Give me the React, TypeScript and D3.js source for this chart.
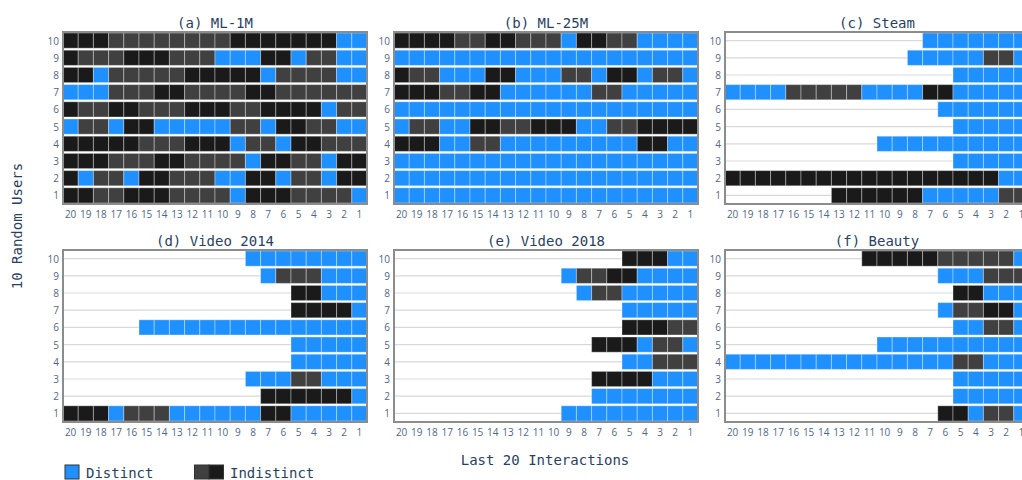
import React from 'react';
import * as d3 from 'd3';

// Tick labels
const users = ['1', '2', '3', '4', '5', '6', '7', '8', '9', '10'];
const positions = ['20', '19', '18', '17', '16', '15', '14', '13', '12', '11', '10', '9', '8', '7', '6', '5', '4', '3', '2', '1'];

// Each string = one user (listed from user 10 down to user 1),
// each character = one interaction from position 20 (left) to 1 (right).
// B = Distinct, G = Indistinct (grey), K = Indistinct (black), . = none
const ml1m = [
  'KKKGGGGGGGGKKKKKKKBB',
  'KGGGKKKGGGBBBKKBGGBB',
  'KKBGGGGGKKKKKBGGGGBB',
  'BBBGGGKKGGGGKKGGGGGG',
  'KGGKKGGGKKKGGKKKKBGG',
  'BGGBKKBBBBBGGBKKGGBB',
  'KKKKKGGGKKKBGGBKKGGG',
  'KKKGGGKKGGGGBKKGGBKK',
  'KBGGBKKGGGBBKKBGGBKK',
  'KKGGKKKGGGGBKKKGGGGB',
];
const ml25m = [
  'KKKKGGKKGGGBKKGGBBBB',
  'BBBBBBBBBBBBBBBBBBBB',
  'KGGBBBKKBBBGGBKKBGGB',
  'KKKGGKKBBBBBBGGBBBBB',
  'BBBBBBBBBBBBBBBBBBBB',
  'BGGBBKKGGKKKBBGGKKKK',
  'KKKBBGGBBBBBBBBBKKBB',
  'BBBBBBBBBBBBBBBBBBBB',
  'BBBBBBBBBBBBBBBBBBBB',
  'BBBBBBBBBBBBBBBBBBBB',
];
const steam = [
  '.............BBBBBBB',
  '............BBBBBGGB',
  '...............BBBBB',
  'BBBBGGGGGBBBBKKBBBBB',
  '..............BBBBBB',
  '...............BBBBB',
  '..........BBBBBBBBBB',
  '...............BBBBB',
  'KKKKKKKKKKKKKKKKKKBB',
  '.......KKKKKKBBBBBGG',
];
const video2014 = [
  '............BBBBBBBB',
  '.............BGGGBBB',
  '...............KKBBB',
  '...............KKKKB',
  '.....BBBBBBBBBBBBBBB',
  '...............BBBBB',
  '...............BBBBB',
  '............BBBGGBBB',
  '.............KKKKKKB',
  'KKKBGGGBBBBBBKKBBBBB',
];
const video2018 = [
  '...............KKKBB',
  '...........BGGKKBBBB',
  '............BGGBBBBB',
  '...............BBBBB',
  '...............KKKGG',
  '.............KKKBGGB',
  '...............BBGGG',
  '.............KKKKBBB',
  '.............BBBBBBB',
  '...........BBBBBBBBB',
];
const beauty = [
  '.........KKKKKGGGGGB',
  '..............BBBGGG',
  '...............KKBBB',
  '..............BGGKKB',
  '...............BBGGB',
  '..........BBBBBBBBBB',
  'BBBBBBBBBBBBBBBGGBBB',
  '...............BBBBB',
  '...............BBBBB',
  '..............KKBGGB',
];

const titles = ['(a) ML-1M', '(b) ML-25M', '(c) Steam', '(d) Video 2014', '(e) Video 2018', '(f) Beauty'];
const datasets = [ml1m, ml25m, steam, video2014, video2018, beauty];

const COLORS: Record<string, string> = { B: '#1E90FF', G: '#404040', K: '#1a1a1a' };
const TEXT = '#2a3f5f';
const TICK = '#506784';
const MONO = '"DejaVu Sans Mono", monospace';
const SANS = '"Open Sans", "Noto Sans", sans-serif';

const colX = [63, 394, 725];
const rowY = [32, 250];
const PW = 304;
const PH = 172;

function Panel({ title, rows, tx, ty }: { title: string; rows: string[]; tx: number; ty: number }) {
  const x = d3.scaleBand<string>().domain(positions).range([0, PW]).padding(0);
  const y = d3.scaleBand<string>().domain([...users].reverse()).range([0, PH]).padding(0);
  const bh = y.bandwidth();
  const cells: { u: string; p: string; c: string }[] = [];
  rows.forEach((r, i) => {
    const u = users[users.length - 1 - i];
    r.split('').forEach((c, j) => {
      if (c !== '.') cells.push({ u, p: positions[j], c });
    });
  });
  return (
    <g transform={`translate(${tx},${ty})`}>
      <text x={PW / 2} y={-9.5} textAnchor="middle" dominantBaseline="central" fontFamily={MONO} fontSize={14} fill={TEXT}>
        {title}
      </text>
      {users.map((u) => (
        <line key={'g' + u} x1={0} x2={PW} y1={y(u)! + bh / 2} y2={y(u)! + bh / 2} stroke="#d9d9d9" strokeWidth={1.2} />
      ))}
      {cells.map((d, i) => (
        <rect
          key={i}
          x={x(d.p)!}
          y={y(d.u)! + 1}
          width={x.bandwidth()}
          height={bh - 2}
          fill={COLORS[d.c]}
          stroke="rgba(255,255,255,0.35)"
          strokeWidth={1}
        />
      ))}
      <rect x={0} y={0} width={PW} height={PH} fill="none" stroke="#8c8c8c" strokeWidth={2} />
      {users.map((u) => (
        <text key={'y' + u} x={-4} y={y(u)! + bh / 2} textAnchor="end" dominantBaseline="central" fontFamily={SANS} fontSize={10} fill={TICK}>
          {u}
        </text>
      ))}
      {positions.map((p) => (
        <text key={'x' + p} x={x(p)! + x.bandwidth() / 2} y={PH + 9.5} textAnchor="middle" dominantBaseline="central" fontFamily={SANS} fontSize={10} fill={TICK}>
          {p}
        </text>
      ))}
    </g>
  );
}

export default function App() {
  return (
    <div style={{ position: 'absolute', left: 0, top: 0, width: 1022, height: 480, overflow: 'hidden' }}>
      <svg width={1022} height={480} style={{ display: 'block', background: '#fff' }}>
        {datasets.map((rows, i) => (
          <Panel key={i} title={titles[i]} rows={rows} tx={colX[i % 3]} ty={rowY[Math.floor(i / 3)]} />
        ))}
        <text
          transform="translate(17,226) rotate(-90)"
          textAnchor="middle"
          dominantBaseline="central"
          fontFamily={MONO}
          fontSize={14}
          fill={TEXT}
        >
          10 Random Users
        </text>
        <text x={545} y={460} textAnchor="middle" dominantBaseline="central" fontFamily={MONO} fontSize={14} fill={TEXT}>
          Last 20 Interactions
        </text>
        <rect x={65} y={465} width={14} height={14} fill={COLORS.B} stroke="#333" strokeWidth={1} />
        <text x={86} y={473} dominantBaseline="central" fontFamily={MONO} fontSize={14} fill={TEXT}>
          Distinct
        </text>
        <rect x={194.5} y={465} width={14.5} height={14} fill={COLORS.G} stroke="#333" strokeWidth={1} />
        <rect x={209} y={465} width={14.5} height={14} fill={COLORS.K} stroke="#333" strokeWidth={1} />
        <text x={230} y={473} dominantBaseline="central" fontFamily={MONO} fontSize={14} fill={TEXT}>
          Indistinct
        </text>
      </svg>
    </div>
  );
}
